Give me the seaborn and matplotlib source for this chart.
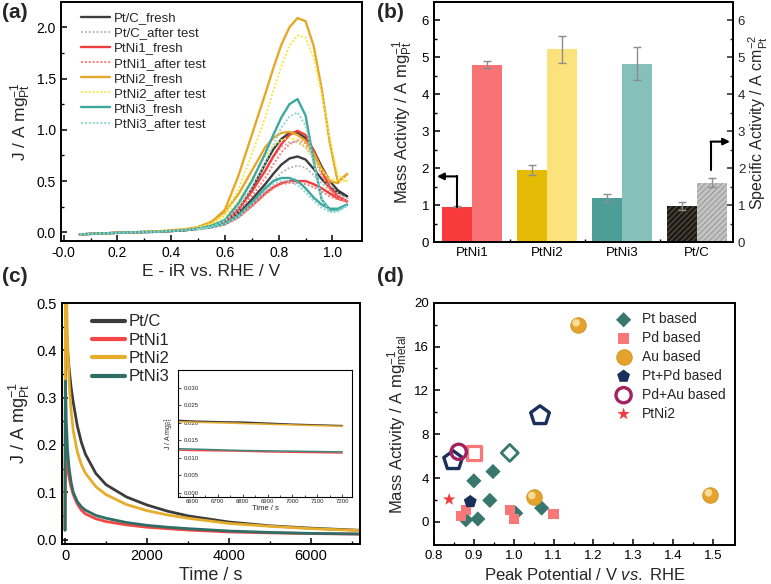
import numpy as np
import pandas as pd
import matplotlib
matplotlib.use("Agg")
import matplotlib.pyplot as plt
from matplotlib.transforms import offset_copy
import seaborn as sns

# ---------------- data ----------------
# (a) CV curves: forward scan then backward scan
cv_fwd_x = [0.06, 0.15, 0.25, 0.35, 0.45, 0.50, 0.55, 0.60, 0.65, 0.70, 0.75,
            0.78, 0.81, 0.84, 0.87, 0.90, 0.93, 0.96, 0.99, 1.02, 1.055]
cv_bwd_x = [1.055, 1.02, 0.99, 0.96, 0.93, 0.90, 0.87, 0.84, 0.81, 0.78,
            0.75, 0.70, 0.65, 0.60, 0.55, 0.50]

ptc_fresh_fwd = [-0.02, -0.01, 0.0, 0.005, 0.02, 0.035, 0.06, 0.1, 0.19, 0.32, 0.47,
                 0.57, 0.66, 0.72, 0.74, 0.71, 0.62, 0.52, 0.44, 0.39, 0.35]
ptc_fresh_bwd = [0.35, 0.41, 0.5, 0.64, 0.8, 0.92, 0.97, 0.97, 0.91, 0.81,
                 0.67, 0.42, 0.22, 0.1, 0.06, 0.035]
ptc_after_fwd = [-0.02, -0.01, 0.0, 0.005, 0.02, 0.03, 0.055, 0.09, 0.17, 0.28, 0.41,
                 0.5, 0.58, 0.63, 0.65, 0.63, 0.56, 0.48, 0.41, 0.36, 0.33]
ptc_after_bwd = [0.33, 0.38, 0.47, 0.6, 0.73, 0.83, 0.88, 0.88, 0.83, 0.74,
                 0.61, 0.38, 0.2, 0.09, 0.055, 0.03]
ptni1_fresh_fwd = [-0.02, -0.01, 0.0, 0.005, 0.02, 0.035, 0.06, 0.11, 0.23, 0.4, 0.6,
                   0.74, 0.86, 0.95, 0.99, 0.95, 0.8, 0.6, 0.44, 0.35, 0.3]
ptni1_fresh_bwd = [0.3, 0.33, 0.38, 0.43, 0.47, 0.5, 0.5, 0.5, 0.48, 0.44,
                   0.38, 0.26, 0.15, 0.08, 0.05, 0.035]
ptni1_after_fwd = [-0.02, -0.01, 0.0, 0.005, 0.02, 0.03, 0.055, 0.1, 0.2, 0.35, 0.53,
                   0.66, 0.78, 0.86, 0.9, 0.87, 0.74, 0.56, 0.42, 0.34, 0.3]
ptni1_after_bwd = [0.3, 0.32, 0.35, 0.4, 0.44, 0.47, 0.48, 0.48, 0.47, 0.43,
                   0.37, 0.25, 0.14, 0.075, 0.045, 0.03]
ptni2_fresh_fwd = [-0.02, -0.01, 0.0, 0.01, 0.03, 0.05, 0.1, 0.22, 0.55, 0.95, 1.35,
                   1.6, 1.83, 2.0, 2.09, 2.06, 1.82, 1.4, 0.88, 0.49, 0.57]
ptni2_fresh_bwd = [0.57, 0.48, 0.5, 0.62, 0.77, 0.89, 0.95, 0.98, 0.97, 0.92,
                   0.83, 0.6, 0.37, 0.2, 0.1, 0.05]
ptni2_after_fwd = [-0.02, -0.01, 0.0, 0.01, 0.025, 0.045, 0.085, 0.18, 0.42, 0.76, 1.12,
                   1.38, 1.62, 1.82, 1.92, 1.9, 1.7, 1.35, 0.92, 0.56, 0.5]
ptni2_after_bwd = [0.5, 0.5, 0.53, 0.6, 0.72, 0.83, 0.9, 0.92, 0.9, 0.84,
                   0.74, 0.52, 0.3, 0.16, 0.08, 0.045]
ptni3_fresh_fwd = [-0.02, -0.01, 0.0, 0.005, 0.02, 0.035, 0.065, 0.12, 0.28, 0.5, 0.77,
                   0.95, 1.12, 1.25, 1.3, 1.14, 0.7, 0.32, 0.22, 0.22, 0.27]
ptni3_fresh_bwd = [0.27, 0.23, 0.23, 0.27, 0.34, 0.43, 0.5, 0.53, 0.53, 0.5,
                   0.43, 0.29, 0.16, 0.085, 0.05, 0.035]
ptni3_after_fwd = [-0.02, -0.01, 0.0, 0.005, 0.02, 0.033, 0.06, 0.11, 0.24, 0.44, 0.68,
                   0.85, 1.02, 1.13, 1.17, 1.04, 0.68, 0.33, 0.2, 0.2, 0.26]
ptni3_after_bwd = [0.26, 0.21, 0.2, 0.24, 0.31, 0.39, 0.46, 0.5, 0.5, 0.47,
                   0.4, 0.27, 0.15, 0.08, 0.045, 0.03]

cv_labels = ['Pt/C_fresh', 'Pt/C_after test', 'PtNi1_fresh', 'PtNi1_after test',
             'PtNi2_fresh', 'PtNi2_after test', 'PtNi3_fresh', 'PtNi3_after test']
cv_colors = ['#3d3d3d', '#b8b8b8', '#f23c3c', '#ff7a7a',
             '#e6a82a', '#f5e84a', '#3ea89e', '#8fd6cf']

# (b) activities
bar_cats = ['PtNi1', 'PtNi2', 'PtNi3', 'Pt/C']
mass_act = [0.96, 1.95, 1.19, 0.98]
mass_err = [0.01, 0.13, 0.11, 0.11]
spec_act = [4.80, 5.21, 4.83, 1.61]
spec_err = [0.10, 0.37, 0.45, 0.12]
mass_colors = ['#f83a3a', '#e5bc05', '#4c9e97', '#1e1a16']
spec_colors = ['#f87474', '#fbe27c', '#86c0ba', '#c4c4c4']

# (c) chronoamperometry
ca_time = [0, 10, 30, 60, 100, 150, 200, 300, 400, 500, 750, 1000, 1500,
           2000, 2500, 3000, 4000, 5000, 6000, 7200]
ca_ptc = [0.02, 0.48, 0.45, 0.40, 0.36, 0.32, 0.29, 0.24, 0.205, 0.18, 0.14, 0.116,
          0.09, 0.073, 0.06, 0.05, 0.037, 0.029, 0.024, 0.0195]
ca_ptni1 = [0.02, 0.22, 0.18, 0.15, 0.13, 0.11, 0.095, 0.075, 0.062, 0.054, 0.044,
            0.038, 0.031, 0.026, 0.023, 0.02, 0.016, 0.014, 0.0125, 0.0114]
ca_ptni2 = [0.02, 0.62, 0.55, 0.42, 0.33, 0.27, 0.23, 0.185, 0.158, 0.14, 0.112,
            0.095, 0.074, 0.061, 0.052, 0.045, 0.034, 0.028, 0.023, 0.019]
ca_ptni3 = [0.02, 0.335, 0.25, 0.19, 0.15, 0.12, 0.10, 0.08, 0.069, 0.062, 0.051,
            0.045, 0.036, 0.03, 0.026, 0.023, 0.018, 0.015, 0.013, 0.0117]
ca_labels = ['Pt/C', 'PtNi1', 'PtNi2', 'PtNi3']
ca_colors = ['#3c3c3c', '#f54545', '#e6ad2c', '#2f6e67']

inset_time = [6542, 6600, 6700, 6800, 6900, 7000, 7100, 7200]
inset_ptc = [0.0207, 0.0205, 0.0203, 0.0202, 0.0199, 0.0196, 0.0194, 0.0192]
inset_ptni2 = [0.0203, 0.0202, 0.0200, 0.0198, 0.0196, 0.0194, 0.0192, 0.0190]
inset_ptni3 = [0.0126, 0.0125, 0.0123, 0.0121, 0.0120, 0.0119, 0.0118, 0.0117]
inset_ptni1 = [0.0122, 0.0121, 0.0120, 0.0119, 0.0117, 0.0116, 0.0115, 0.0114]

# (d) literature comparison
pt_x = [0.948, 0.90, 0.94, 1.07, 0.88, 0.91, 1.005]
pt_y = [4.6, 3.75, 1.97, 1.27, 0.2, 0.27, 0.8]
pt_open_x = [0.99]
pt_open_y = [6.3]
pd_x = [0.868, 0.881, 0.99, 1.0, 1.10]
pd_y = [0.55, 1.12, 1.08, 0.25, 0.7]
pd_open_x = [0.90]
pd_open_y = [6.3]
au_x = [1.161, 1.05, 1.493]
au_y = [18.0, 2.25, 2.5]
ptpd_x = [0.891]
ptpd_y = [1.85]
ptpd_open_x = [0.848, 1.066]
ptpd_open_y = [5.6, 9.7]
pdau_x = [0.862]
pdau_y = [6.4]
ptni2_x = [0.838]
ptni2_y = [2.05]

# ---------------- style ----------------
sns.set_style("ticks")
plt.rcParams['font.family'] = ['Liberation Sans', 'DejaVu Sans']
plt.rcParams['mathtext.fontset'] = 'custom'
plt.rcParams['mathtext.rm'] = 'Liberation Sans'
plt.rcParams['mathtext.it'] = 'Liberation Sans:italic'
plt.rcParams['axes.linewidth'] = 1.4
plt.rcParams['axes.edgecolor'] = 'black'
plt.rcParams['hatch.linewidth'] = 0.8


def frame(ax, size):
    ax.tick_params(which='both', direction='in', top=False, right=False,
                   labelsize=size, colors='black')
    ax.tick_params(which='major', length=4, width=1.1)
    ax.tick_params(which='minor', length=2.2, width=1.0)
    for s in ax.spines.values():
        s.set_visible(True)
        s.set_color('black')


fig = plt.figure(figsize=(7.71, 5.84), dpi=100)
axa = fig.add_axes([0.0791, 0.5873, 0.3904, 0.4098])
axb = fig.add_axes([0.5629, 0.5851, 0.3878, 0.4120])
axc = fig.add_axes([0.0804, 0.0685, 0.3865, 0.4132])
axd = fig.add_axes([0.5629, 0.0668, 0.3904, 0.4149])

# ---------------- (a) ----------------
cv_fwd = [ptc_fresh_fwd, ptc_after_fwd, ptni1_fresh_fwd, ptni1_after_fwd,
          ptni2_fresh_fwd, ptni2_after_fwd, ptni3_fresh_fwd, ptni3_after_fwd]
cv_bwd = [ptc_fresh_bwd, ptc_after_bwd, ptni1_fresh_bwd, ptni1_after_bwd,
          ptni2_fresh_bwd, ptni2_after_bwd, ptni3_fresh_bwd, ptni3_after_bwd]
for i, (lab, fw, bw, col) in enumerate(zip(cv_labels, cv_fwd, cv_bwd, cv_colors)):
    dotted = i % 2 == 1
    sns.lineplot(x=cv_fwd_x + cv_bwd_x, y=fw + bw, sort=False, estimator=None,
                 color=col, lw=1.4 if dotted else 1.7,
                 linestyle=(0, (1, 1)) if dotted else '-', label=lab, ax=axa)
axa.set_xlim(-0.01, 1.11)
axa.set_ylim(-0.085, 2.25)
axa.set_xticks([0.0, 0.2, 0.4, 0.6, 0.8, 1.0])
axa.set_xticklabels(['-0.0', '0.2', '0.4', '0.6', '0.8', '1.0'])
axa.set_xticks(np.arange(0.1, 1.1, 0.2), minor=True)
axa.set_yticks([0.0, 0.5, 1.0, 1.5, 2.0])
axa.set_yticks([0.25, 0.75, 1.25, 1.75], minor=True)
frame(axa, 10)
axa.set_xlabel('E - iR vs. RHE / V', fontsize=12.5, labelpad=3)
axa.set_ylabel(r'J / A mg$_{\mathrm{Pt}}^{-1}$', fontsize=12.5, labelpad=3)
axa.legend(loc='upper left', bbox_to_anchor=(0.04, 0.99), frameon=False,
           fontsize=9.5, handlelength=2.2, handletextpad=0.3,
           labelspacing=0.22, borderaxespad=0.2)

# ---------------- (b) ----------------
df_b = pd.DataFrame({'cat': bar_cats * 2, 'val': mass_act + spec_act,
                     'kind': ['Mass'] * 4 + ['Specific'] * 4})
sns.barplot(data=df_b, x='cat', y='val', hue='kind', order=bar_cats,
            hue_order=['Mass', 'Specific'], width=0.8, gap=0, dodge=True,
            errorbar=None, legend=False, ax=axb)
for p, c in zip(axb.patches, mass_colors + spec_colors):
    p.set_facecolor(c)
    p.set_edgecolor('none')
    p.set_linewidth(0)
# hatched Pt/C bars
axb.patches[3].set_hatch('//////')
axb.patches[3].set_edgecolor('#5a5040')
axb.patches[7].set_hatch('//////')
axb.patches[7].set_edgecolor('#9c9c9c')
idx = np.arange(len(bar_cats))
axb.errorbar(idx - 0.2, mass_act, yerr=mass_err, fmt='none', ecolor='#8c8c8c',
             elinewidth=1.0, capsize=3, capthick=1.0)
axb.errorbar(idx + 0.2, spec_act, yerr=spec_err, fmt='none', ecolor='#8c8c8c',
             elinewidth=1.0, capsize=3, capthick=1.0)
axb.set_xlim(-0.51, 3.48)
axb.set_ylim(0, 6.5)
axb.set_xticks(idx)
axb.set_xticklabels(bar_cats)
axb.set_xticks([0.5, 1.5, 2.5], minor=True)
axb.set_yticks(range(7))
axb.set_yticks(np.arange(0.5, 6.5, 1.0), minor=True)
frame(axb, 9.5)
axb.set_xlabel('')
axb.set_ylabel(r'Mass Activity / A mg$_{\mathrm{Pt}}^{-1}$', fontsize=12, labelpad=5)
axb2 = axb.twinx()
axb2.set_ylim(0, 6.5)
axb2.set_yticks(range(7))
axb2.set_yticks(np.arange(0.5, 6.5, 1.0), minor=True)
axb2.tick_params(which='both', direction='in', labelsize=9.5)
axb2.tick_params(which='major', length=4, width=1.1)
axb2.tick_params(which='minor', length=2.2, width=1.0)
axb2.set_ylabel(r'Specific Activity / A cm$_{\mathrm{Pt}}^{-2}$', fontsize=11.5, labelpad=1)
# arrows pointing to the axis each bar belongs to
axb.plot([-0.2, -0.2], [mass_act[0], 1.78], color='black', lw=1.5)
axb.annotate('', xy=(-0.47, 1.78), xytext=(-0.2, 1.78),
             arrowprops=dict(arrowstyle='-|>', color='black', lw=1.5,
                             mutation_scale=10, shrinkA=0, shrinkB=0))
axb.plot([3.18, 3.18], [1.95, 2.72], color='black', lw=1.5)
axb.annotate('', xy=(3.44, 2.72), xytext=(3.18, 2.72),
             arrowprops=dict(arrowstyle='-|>', color='black', lw=1.5,
                             mutation_scale=10, shrinkA=0, shrinkB=0))

# ---------------- (c) ----------------
for lab, vals, col in zip(ca_labels, [ca_ptc, ca_ptni1, ca_ptni2, ca_ptni3], ca_colors):
    sns.lineplot(x=ca_time, y=vals, color=col, lw=2.0, label=lab, ax=axc)
axc.set_xlim(-75, 7200)
axc.set_ylim(-0.0095, 0.501)
axc.set_xticks([0, 2000, 4000, 6000])
axc.set_xticks([1000, 3000, 5000, 7000], minor=True)
axc.set_yticks([0.0, 0.1, 0.2, 0.3, 0.4, 0.5])
axc.set_yticks([0.05, 0.15, 0.25, 0.35, 0.45], minor=True)
frame(axc, 10.5)
axc.set_xlabel('Time / s', fontsize=13, labelpad=3)
axc.set_ylabel(r'J / A mg$_{\mathrm{Pt}}^{-1}$', fontsize=13, labelpad=3)
leg = axc.legend(loc='upper left', bbox_to_anchor=(0.06, 1.0), frameon=False,
                 fontsize=12, handlelength=2.0, labelspacing=0.2,
                 handletextpad=0.2, borderaxespad=0.3)
for h in leg.get_lines():
    h.set_linewidth(3)

axi = fig.add_axes([0.2313, 0.1495, 0.2249, 0.2170])
for vals, col in zip([inset_ptc, inset_ptni1, inset_ptni2, inset_ptni3],
                     [ca_colors[0], ca_colors[1], ca_colors[2], '#3a8a80']):
    sns.lineplot(x=inset_time, y=vals, color=col, lw=1.1, ax=axi)
axi.set_xlim(6542, 7238)
axi.set_ylim(-0.0011, 0.0351)
axi.set_xticks(range(6600, 7201, 100))
axi.set_xticks(range(6550, 7201, 100), minor=True)
axi.set_yticks([0.0, 0.005, 0.010, 0.015, 0.020, 0.025, 0.030])
axi.set_yticklabels(['0.000', '0.005', '0.010', '0.015', '0.020', '0.025', '0.030'])
for s in axi.spines.values():
    s.set_linewidth(0.8)
axi.tick_params(which='both', direction='in', labelsize=4.3, width=0.6, pad=1.5)
axi.tick_params(which='major', length=2)
axi.tick_params(which='minor', length=1.2)
axi.tick_params(axis='y', pad=-15)
axi.set_xlabel('Time / s', fontsize=5.5, labelpad=1)
axi.set_ylabel(r'J / A mg$_{\mathrm{Pt}}^{-1}$', fontsize=5, labelpad=2)

# ---------------- (d) ----------------
c_pt, c_pd, c_au = '#37776d', '#f87878', '#e3a32c'
c_ptpd, c_pdau, c_star = '#1b2f5c', '#a3225f', '#f23a3a'

sns.scatterplot(x=pt_x, y=pt_y, marker='D', s=60, color=c_pt, edgecolor='none',
                label='Pt based', ax=axd)
sns.scatterplot(x=pt_open_x, y=pt_open_y, marker='D', s=75, color=c_pt, ax=axd)
axd.collections[-1].set_facecolor('none')
axd.collections[-1].set_edgecolor(c_pt)
axd.collections[-1].set_linewidth(2.0)
sns.scatterplot(x=pd_x, y=pd_y, marker='s', s=55, color=c_pd, edgecolor='none',
                label='Pd based', ax=axd)
sns.scatterplot(x=pd_open_x, y=pd_open_y, marker='s', s=105, color=c_pd, ax=axd)
axd.collections[-1].set_facecolor('none')
axd.collections[-1].set_edgecolor(c_pd)
axd.collections[-1].set_linewidth(2.3)
sns.scatterplot(x=au_x, y=au_y, marker='o', s=125, color=c_au, edgecolor='#d09020',
                linewidth=0.6, label='Au based', ax=axd)
hl = offset_copy(axd.transData, fig=fig, x=-1.3, y=1.3, units='points')
axd.scatter(au_x, au_y, s=30, color='#f8dc96', edgecolor='none', transform=hl, zorder=3)
sns.scatterplot(x=ptpd_x, y=ptpd_y, marker='p', s=95, color=c_ptpd, edgecolor='none',
                label='Pt+Pd based', ax=axd)
sns.scatterplot(x=ptpd_open_x, y=ptpd_open_y, marker='p', s=200, color=c_ptpd, ax=axd)
axd.collections[-1].set_facecolor('none')
axd.collections[-1].set_edgecolor(c_ptpd)
axd.collections[-1].set_linewidth(2.4)
sns.scatterplot(x=pdau_x, y=pdau_y, marker='o', s=120, color=c_pdau,
                label='Pd+Au based', ax=axd)
axd.collections[-1].set_facecolor('none')
axd.collections[-1].set_edgecolor(c_pdau)
axd.collections[-1].set_linewidth(2.4)
sns.scatterplot(x=ptni2_x, y=ptni2_y, marker='*', s=90, color=c_star, edgecolor='none',
                label='PtNi2', ax=axd)
axd.set_xlim(0.8, 1.555)
axd.set_ylim(-2.1, 20)
axd.set_xticks(np.arange(0.8, 1.51, 0.1))
axd.set_xticks(np.arange(0.85, 1.55, 0.1), minor=True)
axd.set_yticks([0, 4, 8, 12, 16, 20])
axd.set_yticks([2, 6, 10, 14, 18], minor=True)
frame(axd, 9.5)
axd.set_xlabel(r'Peak Potential / V $\mathit{vs.}$ RHE', fontsize=12, labelpad=4)
axd.set_ylabel(r'Mass Activity / A mg$_{\mathrm{metal}}^{-1}$', fontsize=12, labelpad=3)
axd.legend(loc='upper right', bbox_to_anchor=(1.0, 1.0), frameon=False, fontsize=10,
           handletextpad=0.3, labelspacing=0.35, borderaxespad=0.3)

# panel labels
for txt, x, y in [('(a)', 0.002, 0.995), ('(b)', 0.489, 0.995),
                  ('(c)', 0.002, 0.543), ('(d)', 0.489, 0.543)]:
    fig.text(x, y, txt, fontsize=15, fontweight='bold', va='top', ha='left')

fig.savefig('out.png', dpi=100)
